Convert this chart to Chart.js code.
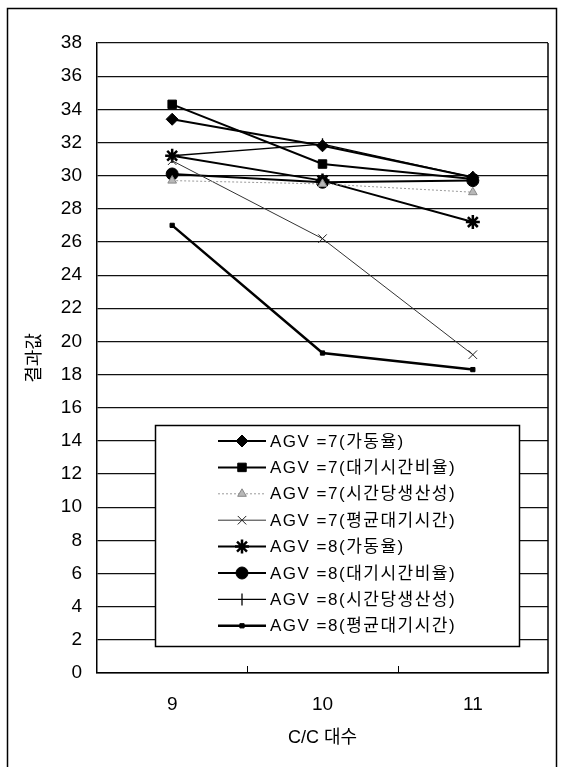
<!DOCTYPE html>
<html lang="ko">
<head>
    <meta charset="UTF-8">
    <title>C/C 대수별 결과값</title>
    <script src="https://cdn.jsdelivr.net/npm/chart.js"></script>
    <style>
        html, body { margin: 0; padding: 0; background: #fff; }
        #chart { display: block; }
    </style>
</head>
<body>
    <canvas id="chart" width="563" height="767"></canvas>

    <script>
        // data
        const ccCounts = ['9', '10', '11'];
        const agv7Util = [33.4, 31.8, 29.9];
        const agv7WaitRatio = [34.3, 30.7, 29.8];
        const agv7Prod = [29.7, 29.5, 29.0];
        const agv7AvgWait = [30.9, 26.2, 19.2];
        const agv8Util = [31.2, 29.7, 27.2];
        const agv8WaitRatio = [30.1, 29.6, 29.7];
        const agv8Prod = [31.2, 31.9, 29.9];
        const agv8AvgWait = [27.0, 19.3, 18.3];

        const FONT = "'Liberation Sans', Arial, 'Noto Sans CJK KR', sans-serif";

        function series(label, data, style) {
            return Object.assign({
                label: label,
                data: data,
                borderColor: '#000',
                backgroundColor: '#000',
                pointBackgroundColor: '#000',
                pointBorderColor: '#000',
                borderWidth: 2,
                pointBorderWidth: 1,
                pointRadius: 5,
                tension: 0,
                fill: false
            }, style);
        }

        const datasets = [
            series('AGV =7(가동율)', agv7Util, { pointStyle: 'rectRot', pointRadius: 6 }),
            series('AGV =7(대기시간비율)', agv7WaitRatio, { pointStyle: 'rect', pointRadius: 6 }),
            series('AGV =7(시간당생산성)', agv7Prod, {
                borderColor: '#9a9a9a', borderWidth: 1, borderDash: [2, 2],
                pointStyle: 'triangle', pointRadius: 5,
                pointBackgroundColor: '#b8b8b8', pointBorderColor: '#888'
            }),
            series('AGV =7(평균대기시간)', agv7AvgWait, {
                borderColor: '#333', borderWidth: 1,
                pointStyle: 'crossRot', pointRadius: 6, pointBorderColor: '#222', pointBorderWidth: 1
            }),
            series('AGV =8(가동율)', agv8Util, { pointStyle: 'star', pointRadius: 7, pointBorderWidth: 2.5 }),
            series('AGV =8(대기시간비율)', agv8WaitRatio, { pointStyle: 'circle', pointRadius: 6 }),
            series('AGV =8(시간당생산성)', agv8Prod, {
                borderWidth: 1.3, pointStyle: 'line', rotation: 90, pointRadius: 6, pointBorderWidth: 1.3
            }),
            series('AGV =8(평균대기시간)', agv8AvgWait, { borderWidth: 2.5, pointStyle: 'rect', pointRadius: 3 })
        ];

        // white page, outer frame, right plot border, inward x ticks between categories
        const framePlugin = {
            id: 'frame',
            beforeDraw(chart) {
                const ctx = chart.ctx;
                ctx.save();
                ctx.fillStyle = '#fff';
                ctx.fillRect(0, 0, chart.width, chart.height);
                ctx.restore();
            },
            afterDraw(chart) {
                const ctx = chart.ctx;
                const a = chart.chartArea;
                const xs = chart.scales.x;
                ctx.save();
                ctx.strokeStyle = '#000';
                ctx.lineWidth = 1.5;
                ctx.strokeRect(7.5, 8.5, 549, 800);
                ctx.beginPath();
                ctx.moveTo(a.right, a.top);
                ctx.lineTo(a.right, a.bottom);
                ctx.stroke();
                // category boundary ticks, pointing into the plot
                ctx.lineWidth = 1;
                for (let i = 1; i < ccCounts.length; i++) {
                    const x = Math.round((xs.getPixelForTick(i - 1) + xs.getPixelForTick(i)) / 2) + 0.5;
                    ctx.beginPath();
                    ctx.moveTo(x, a.bottom);
                    ctx.lineTo(x, a.bottom - 7);
                    ctx.stroke();
                }
                ctx.restore();
            }
        };

        const legendPlugin = {
            id: 'boxLegend',
            afterDatasetsDraw(chart) {
                const ctx = chart.ctx;
                const box = { x: 155, y: 425, w: 364, h: 221 };
                ctx.save();
                ctx.fillStyle = '#fff';
                ctx.fillRect(box.x, box.y, box.w, box.h);
                ctx.strokeStyle = '#000';
                ctx.lineWidth = 1.5;
                ctx.strokeRect(box.x + 0.5, box.y + 0.5, box.w, box.h);

                ctx.font = '17px ' + FONT;
                ctx.textBaseline = 'middle';
                ctx.textAlign = 'left';
                if ('letterSpacing' in ctx) ctx.letterSpacing = '1.5px';

                chart.data.datasets.forEach((ds, i) => {
                    const y = 441 + i * 26.4;
                    ctx.save();
                    ctx.strokeStyle = ds.borderColor;
                    ctx.lineWidth = ds.borderWidth;
                    ctx.setLineDash(ds.borderDash || []);
                    ctx.beginPath();
                    ctx.moveTo(218, y);
                    ctx.lineTo(266, y);
                    ctx.stroke();
                    ctx.setLineDash([]);
                    ctx.fillStyle = ds.pointBackgroundColor;
                    ctx.strokeStyle = ds.pointBorderColor;
                    ctx.lineWidth = ds.pointBorderWidth;
                    Chart.helpers.drawPoint(ctx, {
                        pointStyle: ds.pointStyle,
                        radius: ds.pointRadius,
                        rotation: ds.rotation || 0,
                        borderWidth: ds.pointBorderWidth
                    }, 242, y);
                    ctx.restore();
                    ctx.fillStyle = '#000';
                    ctx.fillText(ds.label, 270, y + 1);
                });
                ctx.restore();
            }
        };

        new Chart(document.getElementById('chart'), {
            type: 'line',
            data: { labels: ccCounts, datasets: datasets },
            options: {
                responsive: false,
                animation: false,
                layout: { padding: { left: 0, top: 43, right: 15, bottom: 0 } },
                plugins: {
                    legend: { display: false },
                    tooltip: { enabled: false }
                },
                scales: {
                    x: {
                        offset: true,
                        afterFit(scale) { scale.height = 94; },
                        grid: { display: false },
                        border: { display: true, color: '#000', width: 1.5 },
                        ticks: {
                            color: '#000',
                            padding: 12,
                            font: { family: FONT, size: 19 },
                            maxRotation: 0
                        },
                        title: {
                            display: true,
                            text: 'C/C 대수',
                            color: '#000',
                            font: { family: FONT, size: 18 },
                            padding: { top: 0, bottom: 18 }
                        }
                    },
                    y: {
                        min: 0,
                        max: 38,
                        afterFit(scale) { scale.width = 97; },
                        grid: {
                            color: '#111',
                            lineWidth: 1.2,
                            drawTicks: false
                        },
                        border: { display: true, color: '#000', width: 1.5 },
                        ticks: {
                            stepSize: 2,
                            color: '#000',
                            padding: 15,
                            font: { family: FONT, size: 19 }
                        },
                        title: {
                            display: true,
                            text: '결과값',
                            color: '#000',
                            font: { family: FONT, size: 18 },
                            padding: { top: 24, bottom: 0 }
                        }
                    }
                }
            },
            plugins: [framePlugin, legendPlugin]
        });
    </script>
</body>
</html>
